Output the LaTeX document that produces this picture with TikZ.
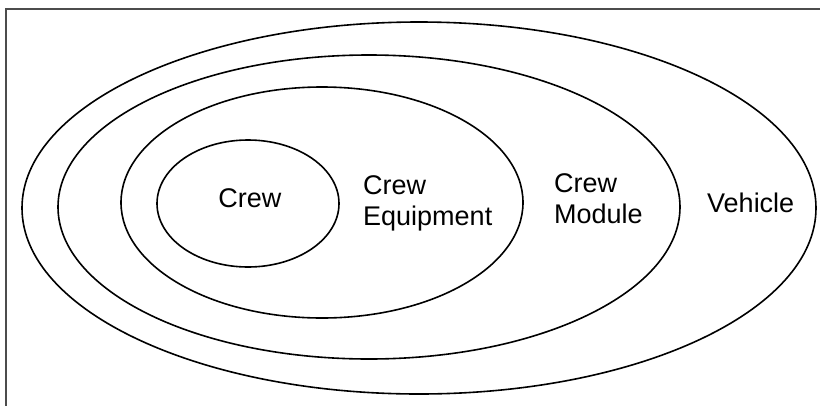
\documentclass[tikz,border=0pt]{standalone}
\usepackage{fontspec}
\setmainfont{Liberation Sans}
\usetikzlibrary{shapes.geometric}

\tikzset{
  ring/.style={draw, ellipse, inner sep=0pt, line width=1.6pt},
  label/.style={inner sep=0pt, align=left, font=\fontsize{27}{31}\selectfont}
}

\begin{document}
\begin{tikzpicture}[x=1pt, y=-1pt]
\useasboundingbox (0,0) rectangle (820,405);
\fill[white] (0,0) rectangle (820,405);
\draw[black!70, line width=1.5pt] (6,9) rectangle (830,420);
\node[ring, minimum width=794pt, minimum height=372pt] (vehicle) at (419,208) {};
\node[ring, minimum width=622pt, minimum height=304pt] (module) at (369,207) {};
\node[ring, minimum width=402pt, minimum height=231pt] (equip) at (322,202.5) {};
\node[ring, minimum width=182pt, minimum height=127pt] (crew) at (248,203.5) {};
\node[label, anchor=base] (crewtext) at (250,207) {Crew};
\node[label, anchor=north west] (equiptext) at (363,175) {Crew\\Equipment};
\node[label, anchor=north west] (moduletext) at (554,173) {Crew\\Module};
\node[label, anchor=base west] (vehicletext) at (707,212) {Vehicle};
\end{tikzpicture}
\end{document}
